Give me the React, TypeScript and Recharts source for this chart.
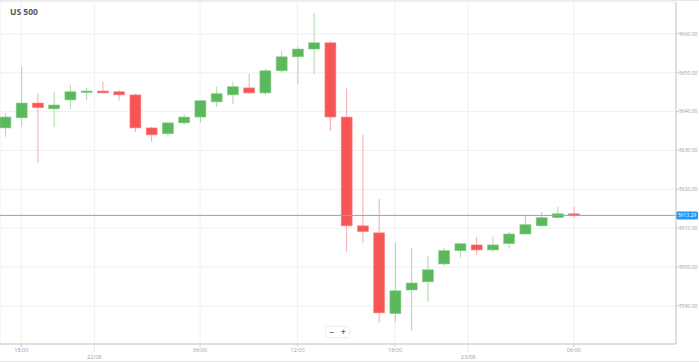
import React from "react";
import {
  Bar,
  CartesianGrid,
  ComposedChart,
  ReferenceLine,
  XAxis,
  YAxis,
} from "recharts";

// hourly candles, 21/08 17:00 → 23/08 06:00 (23:00 daily break skipped)
const opens = [
  5635.8, 5638.4, 5642.2, 5640.7, 5643.0, 5645.1, 5645.3, 5645.1, 5644.3, 5635.8,
  5634.3, 5637.1, 5638.6, 5642.5, 5644.3, 5646.1, 5644.8, 5650.5, 5654.1, 5656.1,
  5657.7, 5638.6, 5610.6, 5608.8, 5588.0, 5594.1, 5596.2, 5600.8, 5604.2, 5605.7,
  5604.4, 5606.0, 5608.5, 5610.6, 5612.7, 5613.7,
];
const highs = [
  5639.7, 5651.5, 5644.6, 5645.1, 5646.9, 5646.1, 5647.7, 5645.6, 5644.6, 5636.1,
  5637.4, 5639.4, 5642.8, 5646.4, 5647.7, 5649.7, 5651.0, 5655.6, 5656.7, 5665.4,
  5658.2, 5645.9, 5634.0, 5617.5, 5606.2, 5604.9, 5602.9, 5604.9, 5606.0, 5607.8,
  5607.8, 5609.1, 5613.2, 5614.2, 5615.5, 5615.5,
];
const lows = [
  5633.5, 5636.1, 5626.8, 5636.1, 5640.7, 5643.0, 5644.8, 5642.8, 5634.8, 5632.2,
  5633.5, 5636.6, 5637.1, 5641.2, 5642.0, 5644.6, 5644.3, 5650.0, 5647.1, 5649.7,
  5635.0, 5603.9, 5606.2, 5585.6, 5585.9, 5583.6, 5591.0, 5600.3, 5602.4, 5603.1,
  5603.9, 5604.7, 5608.5, 5610.6, 5612.7, 5612.7,
];
const closes = [
  5638.6, 5642.2, 5641.0, 5641.7, 5645.1, 5645.3, 5644.8, 5644.3, 5635.8, 5634.0,
  5637.1, 5638.6, 5642.8, 5644.6, 5646.4, 5644.8, 5650.5, 5654.1, 5656.1, 5657.7,
  5638.6, 5610.6, 5609.1, 5588.2, 5593.9, 5595.9, 5599.3, 5604.2, 5606.0, 5604.4,
  5605.7, 5608.5, 5610.9, 5612.7, 5613.7, 5613.29,
];

const tickSlots = [1, 5.5, 12, 18, 24, 28.5, 35];
const tickLabels = ["18:00", "22/08", "06:00", "12:00", "18:00", "23/08", "06:00"];
const priceTicks = [5590, 5600, 5610, 5620, 5630, 5640, 5650, 5660];
const lastPrice = 5613.29;

const UP = "#5cb85c";
const DOWN = "#f65656";
const UP_WICK = "#a9d9a9";
const DOWN_WICK = "#f7a9a9";

const candles = opens.map((open, i) => ({
  i,
  open,
  high: highs[i],
  low: lows[i],
  close: closes[i],
}));

function Candle(props: any) {
  const { x, y, width, height, payload } = props;
  if (!payload) return null;
  const { open, close, high, low } = payload;
  const top = Math.min(y, y + height);
  const h = Math.abs(height);
  const pxPerUnit = h / (high - low || 1);
  const up = close >= open;
  const bodyTop = top + (high - Math.max(open, close)) * pxPerUnit;
  const bodyH = Math.max(1.5, Math.abs(open - close) * pxPerUnit);
  const cx = x + width / 2;
  return (
    <g>
      <line
        x1={cx}
        x2={cx}
        y1={top}
        y2={top + h}
        stroke={up ? UP_WICK : DOWN_WICK}
        strokeWidth={1}
      />
      <rect
        x={x}
        y={bodyTop}
        width={width}
        height={bodyH}
        fill={up ? UP : DOWN}
        stroke={up ? "#8ccf8c" : "#fa8c8c"}
        strokeWidth={0.6}
      />
    </g>
  );
}

function TimeTick(props: any) {
  const { x, payload } = props;
  const idx = tickSlots.indexOf(payload.value);
  const label = tickLabels[idx] ?? "";
  const isDate = label.includes("/");
  return (
    <g>
      {isDate ? (
        <line x1={x} x2={x} y1={344} y2={353} stroke="#cfcfcf" strokeDasharray="1.5 1.5" />
      ) : (
        <line x1={x} x2={x} y1={344} y2={347} stroke="#cfcfcf" />
      )}
      <text
        x={x}
        y={isDate ? 359 : 352}
        textAnchor="middle"
        fontSize={5.5}
        fill="#9a9a9a"
      >
        {label}
      </text>
    </g>
  );
}

function PriceTag(props: any) {
  const { viewBox } = props;
  if (!viewBox) return null;
  const x = viewBox.x + viewBox.width;
  const y = viewBox.y;
  return (
    <g>
      <rect x={x} y={y - 4} width={22} height={8} rx={1.5} fill="#2196f3" />
      <text x={x + 11} y={y + 2} textAnchor="middle" fontSize={5} fill="#ffffff">
        {lastPrice.toFixed(2)}
      </text>
    </g>
  );
}

export default function App() {
  return (
    <div
      style={{
        position: "fixed",
        left: 0,
        top: 0,
        width: 699,
        height: 364,
        background: "#fff",
        fontFamily: "'Open Sans', sans-serif",
        overflow: "hidden",
      }}
    >
      <div style={{ position: "absolute", left: 0, top: 0, width: 699, height: 1, background: "#e8e8e8" }} />
      <div style={{ position: "absolute", left: 0, top: 361, width: 699, height: 1, background: "#e8e8e8" }} />
      <ComposedChart
        width={699}
        height={364}
        data={candles}
        margin={{ top: 2, right: 0, bottom: 0, left: 0 }}
      >
        <CartesianGrid stroke="#f0f0f0" strokeWidth={1} />
        <XAxis
          dataKey="i"
          type="number"
          domain={[-0.31, 41.29]}
          allowDataOverflow
          ticks={tickSlots}
          interval={0}
          height={20}
          axisLine={{ stroke: "#c8c8c8" }}
          tickLine={false}
          tick={<TimeTick />}
        />
        <YAxis
          orientation="right"
          domain={[5580.2, 5668.2]}
          allowDataOverflow
          ticks={priceTicks}
          width={23}
          tickSize={3}
          tickMargin={0}
          axisLine={{ stroke: "#c8c8c8" }}
          tickLine={{ stroke: "#c8c8c8" }}
          tick={{ fontSize: 5, fill: "#9a9a9a", textAnchor: "start" }}
          tickFormatter={(v: number) => v.toFixed(2)}
        />
        <Bar
          dataKey={(d: any) => [d.low, d.high]}
          barSize={11}
          shape={<Candle />}
          isAnimationActive={false}
        />
        <ReferenceLine
          y={lastPrice}
          stroke="#5fb0f0"
          strokeOpacity={1}
          strokeWidth={1}
          label={<PriceTag />}
        />
        <text x={10} y={15} fontSize={8.5} fontWeight={700} fill="#555">
          US 500
        </text>
      </ComposedChart>
      <div
        style={{
          position: "absolute",
          left: 326,
          top: 327,
          width: 23,
          height: 10,
          display: "flex",
          background: "#fff",
          boxShadow: "0 0 2px rgba(0,0,0,0.25)",
          borderRadius: 1,
          fontSize: 8,
          lineHeight: "10px",
          color: "#666",
          fontWeight: 700,
        }}
      >
        <span style={{ flex: 1, textAlign: "center" }}>−</span>
        <span style={{ flex: 1, textAlign: "center" }}>+</span>
      </div>
    </div>
  );
}
